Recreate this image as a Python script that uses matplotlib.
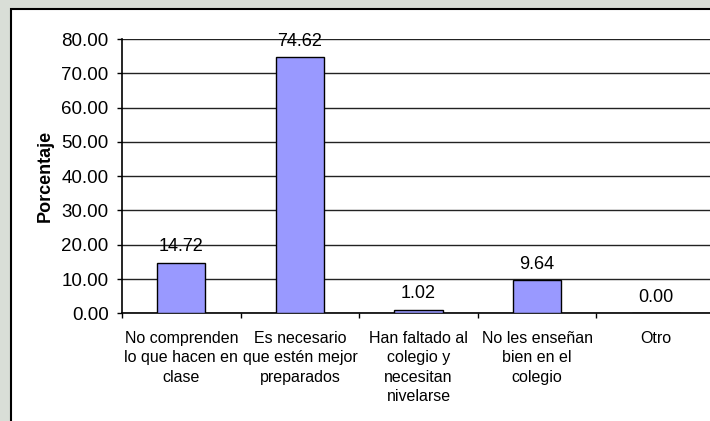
import matplotlib.pyplot as plt
from matplotlib.patches import Rectangle
from matplotlib.ticker import FormatStrFormatter

plt.rcParams["font.family"] = ["Liberation Sans", "DejaVu Sans"]

categories = [
    "No comprenden\nlo que hacen en\nclase",
    "Es necesario\nque estén mejor\npreparados",
    "Han faltado al\ncolegio y\nnecesitan\nnivelarse",
    "No les enseñan\nbien en el\ncolegio",
    "Otro",
]
values = [14.72, 74.62, 1.02, 9.64, 0.00]
y_ticks = [0, 10, 20, 30, 40, 50, 60, 70, 80]

W, H = 710, 421
fig = plt.figure(figsize=(W / 100, H / 100), dpi=100)
fig.patch.set_facecolor("#d9ded7")

# white chart frame (runs past the right and bottom edges)
fig.patches.append(Rectangle((11 / W, -0.1), 1.2, 1.1 - 9 / H,
                             transform=fig.transFigure, facecolor="white",
                             edgecolor="black", linewidth=1.5, zorder=-5))

ax = fig.add_axes([122 / W, 107.7 / H, 593 / W, 274.3 / H])
ax.set_facecolor("white")

x = list(range(len(categories)))
ax.bar(x, values, width=0.405, color="#9999ff", edgecolor="black",
       linewidth=1.0, zorder=3)

for xi, v in zip(x, values):
    ax.annotate(f"{v:.2f}", (xi, v), xytext=(0, 8.3), textcoords="offset points",
                ha="center", va="baseline", fontsize=13, zorder=4)

ax.set_xlim(-0.5, len(categories) - 0.5)
ax.set_ylim(0, 80)
ax.set_yticks(y_ticks)
ax.yaxis.set_major_formatter(FormatStrFormatter("%.2f"))
ax.yaxis.grid(True, color="#222222", linewidth=1.0, zorder=0)
ax.set_axisbelow(True)

ax.set_xticks([i + 0.5 for i in range(-1, len(categories))])
ax.set_xticklabels([])
ax.set_xticks(x, minor=True)
ax.set_xticklabels(categories, minor=True, fontsize=11.5, linespacing=1.38)
ax.tick_params(axis="x", which="major", length=3.6, width=1.0, direction="out")
ax.tick_params(axis="x", which="minor", length=0, pad=12.5)
ax.tick_params(axis="y", length=3.6, width=1.0, direction="out", pad=6,
               labelsize=13.5)

for side in ["top", "right"]:
    ax.spines[side].set_visible(False)
ax.spines["left"].set_linewidth(1.2)
ax.spines["bottom"].set_linewidth(1.2)

ax.set_ylabel("Porcentaje", fontsize=13, fontweight="bold")
ax.yaxis.set_label_coords(-68 / 593, 0.5)

fig.savefig("out.png", dpi=100, facecolor=fig.get_facecolor())
